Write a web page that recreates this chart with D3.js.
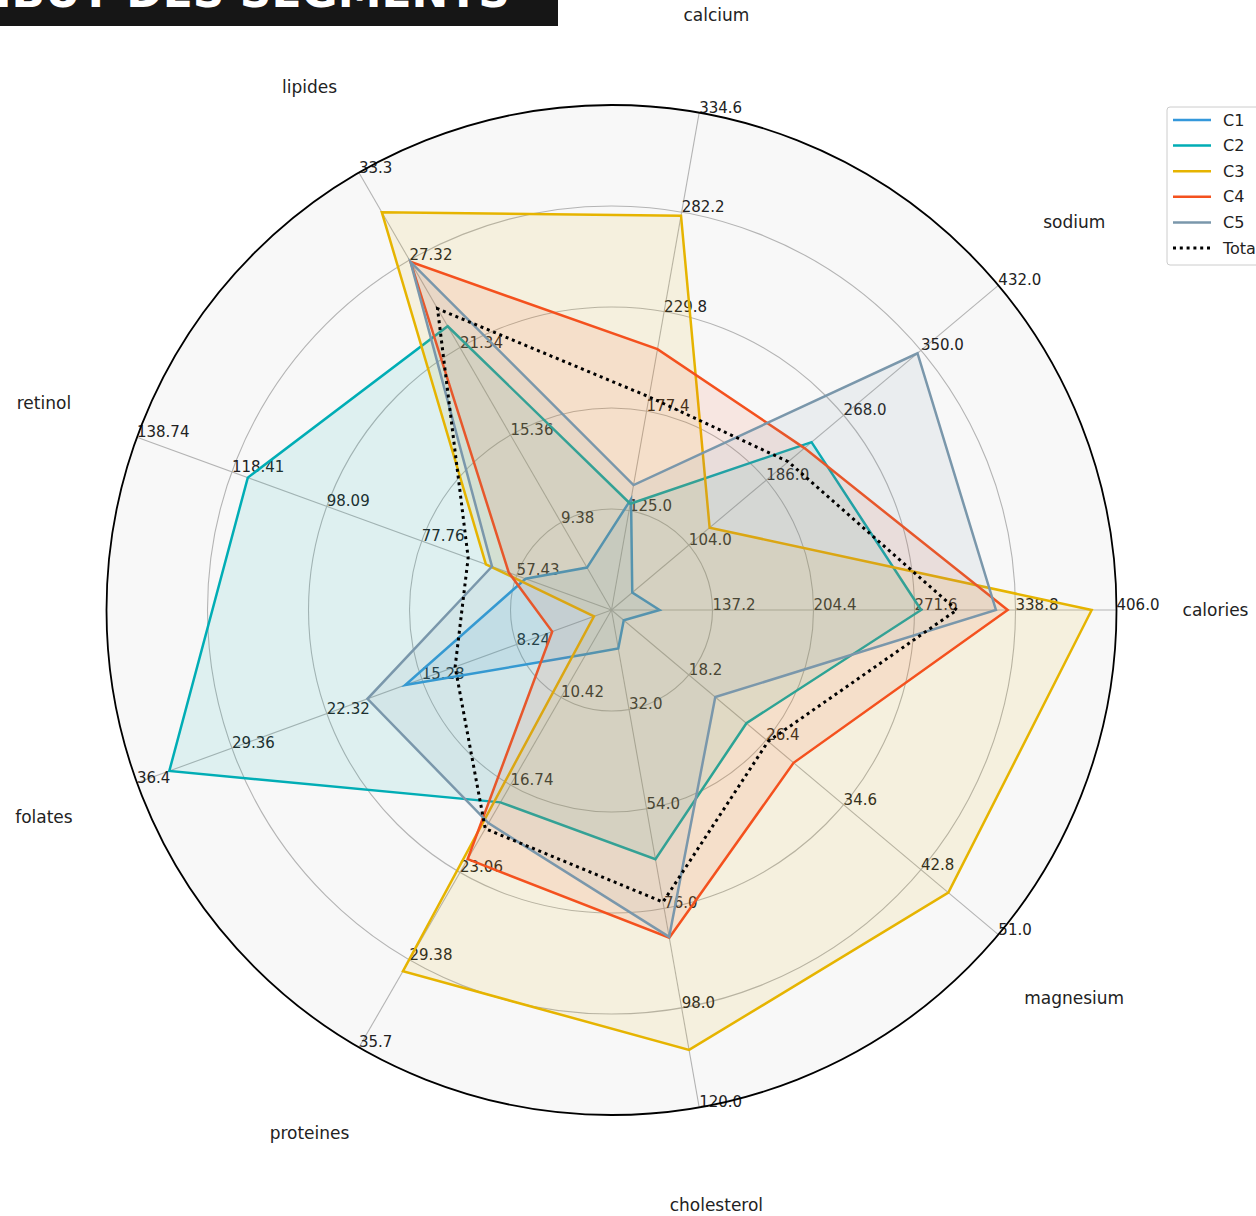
<!DOCTYPE html>
<html lang="fr">
<head>
<meta charset="UTF-8">
<title>Radar des segments</title>
<script src="https://d3js.org/d3.v7.min.js"></script>
<style>
body { margin: 0; background: white; }
svg { display: block; font-family: "DejaVu Sans", sans-serif; }
</style>
</head>
<body>
<svg></svg>
<script>
// axes of the radar, each one with its own scale
const axes = ["calories", "sodium", "calcium", "lipides", "retinol", "folates", "proteines", "cholesterol", "magnesium"];
const axisMin = [70, 22, 72.6, 3.4, 37.1, 1.2, 4.1, 10, 10];
const axisMax = [406, 432, 334.6, 33.3, 138.74, 36.4, 35.7, 120, 51];
const tickLabels = [
  ["137.2", "204.4", "271.6", "338.8", "406.0"],
  ["104.0", "186.0", "268.0", "350.0", "432.0"],
  ["125.0", "177.4", "229.8", "282.2", "334.6"],
  ["9.38", "15.36", "21.34", "27.32", "33.3"],
  ["57.43", "77.76", "98.09", "118.41", "138.74"],
  ["8.24", "15.28", "22.32", "29.36", "36.4"],
  ["10.42", "16.74", "23.06", "29.38", "35.7"],
  ["32.0", "54.0", "76.0", "98.0", "120.0"],
  ["18.2", "26.4", "34.6", "42.8", "51.0"]
];

// segment profiles (same order as axes)
const segments = ["C1", "C2", "C3", "C4", "C5", "Total"];
const c1 = [102, 44, 131, 6.3, 55.5, 16.5, 7.3, 18.5, 11.3];
const c2 = [276, 234, 128.6, 22.8, 115.0, 34.0, 18.0, 65.1, 24.3];
const c3 = [389.5, 126, 280.3, 30.6, 64.0, 2.5, 30.2, 107.3, 45.7];
const c4 = [333.6, 226.5, 210.0, 27.2, 59.1, 5.6, 22.1, 82.5, 29.3];
const c5 = [325.8, 346.3, 138.4, 27.2, 62.7, 19.3, 19.5, 82.3, 21.0];
const total = [299.7, 209.3, 184.9, 24.0, 67.8, 12.8, 19.9, 74.6, 26.6];
const colors = ["#3498db", "#00adb5", "#e6b400", "#f4511e", "#7a97ab", "#000000"];

const width = 1256, height = 1216;
const cx = 611.5, cy = 610, R = 505;

const svg = d3.select("svg")
  .attr("width", width)
  .attr("height", height);

svg.append("rect").attr("width", width).attr("height", height).attr("fill", "white");

const n = axes.length;
const theta = i => i * 2 * Math.PI / n;          // counter-clockwise from east
const scales = axes.map((a, i) => d3.scaleLinear().domain([axisMin[i], axisMax[i]]).range([0, R]));

const g = svg.append("g").attr("transform", "translate(" + cx + "," + cy + ")");

// background disc
g.append("circle").attr("r", R).attr("fill", "#f8f8f8");

// rings
g.selectAll("circle.ring").data([0.2, 0.4, 0.6, 0.8]).enter().append("circle")
  .attr("class", "ring")
  .attr("r", d => d * R)
  .attr("fill", "none")
  .attr("stroke", "#b4b4b4")
  .attr("stroke-width", 1.1);

// spokes
g.selectAll("line.spoke").data(axes).enter().append("line")
  .attr("class", "spoke")
  .attr("x1", 0).attr("y1", 0)
  .attr("x2", (d, i) => R * Math.cos(theta(i)))
  .attr("y2", (d, i) => -R * Math.sin(theta(i)))
  .attr("stroke", "#b4b4b4")
  .attr("stroke-width", 1.1);

// tick labels along every spoke
axes.forEach((a, i) => {
  g.append("g").selectAll("text").data(tickLabels[i]).enter().append("text")
    .attr("x", d => scales[i](+d) * Math.cos(theta(i)))
    .attr("y", d => -scales[i](+d) * Math.sin(theta(i)))
    .attr("font-size", 15)
    .attr("fill", "#222")
    .text(d => d);
});

// series
const allSeries = [c1, c2, c3, c4, c5, total];
const radial = d3.lineRadial()
  .angle((d, i) => Math.PI / 2 - theta(i))
  .radius((d, i) => scales[i](d))
  .curve(d3.curveLinearClosed);

allSeries.forEach((s, k) => {
  const isTotal = segments[k] === "Total";
  if (!isTotal) {
    g.append("path")
      .attr("d", radial(s))
      .attr("fill", colors[k])
      .attr("fill-opacity", 0.1)
      .attr("stroke", "none");
  }
  g.append("path")
    .attr("d", radial(s))
    .attr("fill", "none")
    .attr("stroke", colors[k])
    .attr("stroke-width", isTotal ? 3 : 2.5)
    .attr("stroke-dasharray", isTotal ? "3,3.8" : null)
    .attr("stroke-linejoin", "miter");
});

// outer spine
g.append("circle").attr("r", R).attr("fill", "none").attr("stroke", "black").attr("stroke-width", 1.8);

// axis names
g.selectAll("text.axis-name").data(axes).enter().append("text")
  .attr("class", "axis-name")
  .attr("x", (d, i) => 604 * Math.cos(theta(i)))
  .attr("y", (d, i) => -604 * Math.sin(theta(i)))
  .attr("text-anchor", "middle")
  .attr("dominant-baseline", "central")
  .attr("font-size", 17)
  .attr("fill", "#222")
  .text(d => d);

// legend
const legend = svg.append("g").attr("transform", "translate(1167,107)");
legend.append("rect")
  .attr("width", 130).attr("height", 158)
  .attr("rx", 3)
  .attr("fill", "white").attr("fill-opacity", 0.8)
  .attr("stroke", "#cccccc");
const items = legend.selectAll("g.item").data(segments).enter().append("g")
  .attr("class", "item")
  .attr("transform", (d, k) => "translate(0," + (13 + k * 25.6) + ")");
items.append("line")
  .attr("x1", 6).attr("x2", 44)
  .attr("stroke", (d, k) => colors[k])
  .attr("stroke-width", (d, k) => k === 5 ? 3 : 2.5)
  .attr("stroke-dasharray", (d, k) => k === 5 ? "3,3.8" : null);
items.append("text")
  .attr("x", 56)
  .attr("dominant-baseline", "central")
  .attr("font-size", 16)
  .attr("fill", "#222")
  .text(d => d);

// title banner (cut off at the top edge)
svg.append("rect").attr("x", 0).attr("y", 0).attr("width", 558).attr("height", 26).attr("fill", "#161616");
svg.append("text")
  .attr("x", 510).attr("y", 7)
  .attr("text-anchor", "end")
  .attr("font-size", 44)
  .attr("font-weight", "bold")
  .attr("fill", "white")
  .text("ATTRIBUT DES SEGMENTS");
</script>
</body>
</html>
